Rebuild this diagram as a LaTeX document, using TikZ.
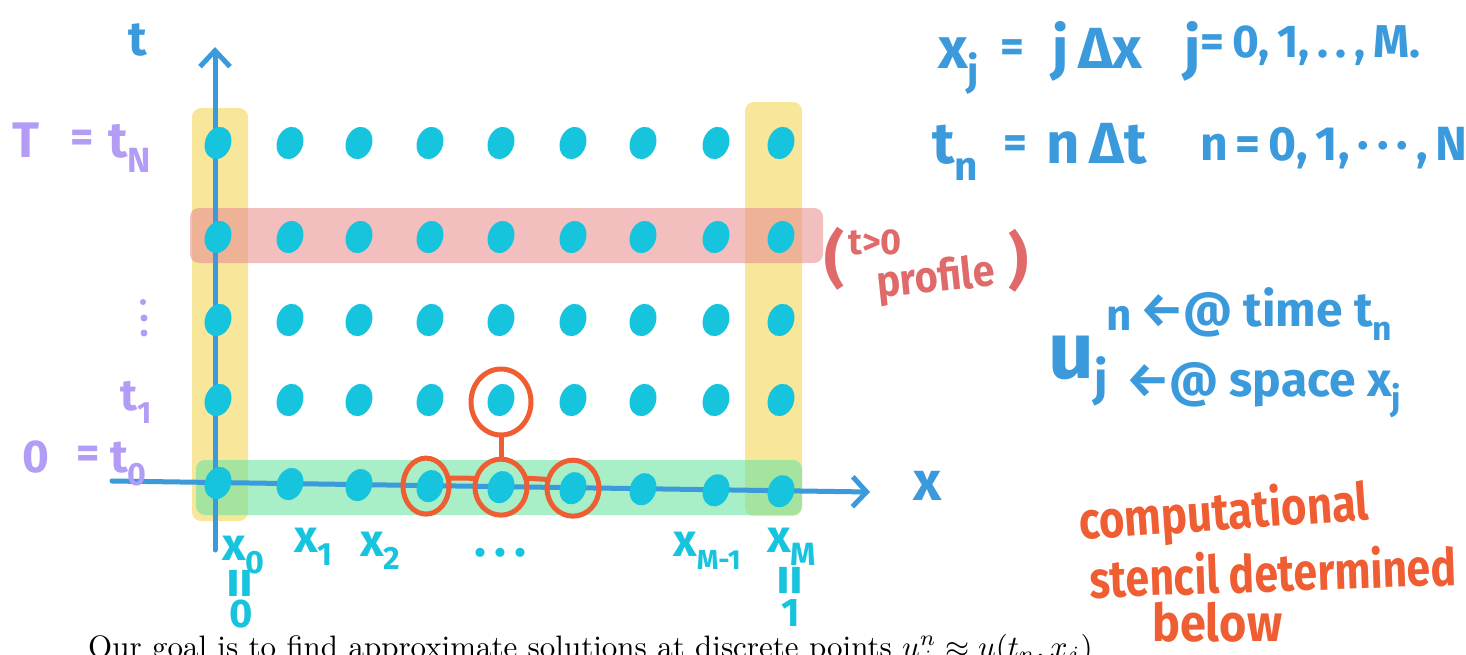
\documentclass[tikz,border=0pt]{standalone}
\usepackage{fontspec}
\usepackage{graphicx}
\newfontfamily\hand{Fira Sans}
\usetikzlibrary{shapes.geometric,arrows.meta}
\definecolor{dotc}{RGB}{22,196,222}
\definecolor{axisc}{RGB}{58,154,220}
\definecolor{purp}{RGB}{178,156,246}
\definecolor{redc}{RGB}{224,106,106}
\definecolor{orc}{RGB}{238,94,50}
\definecolor{yelb}{RGB}{243,213,88}
\definecolor{redb}{RGB}{233,147,147}
\definecolor{grnb}{RGB}{110,227,160}
\newcommand\sbs[1]{\raisebox{-0.3em}{\scalebox{0.7}{#1}}}
\newcommand\nar[2]{\scalebox{#1}[1]{#2}}
\begin{document}
\begin{tikzpicture}[x=1pt,y=-1pt,
  hand/.style={font=\hand\bfseries\fontsize{#1}{#1}\selectfont, inner sep=0pt, anchor=base west},
  band/.style={opacity=.6, rounded corners=9pt},
  axis/.style={draw=axisc, line width=5pt, line cap=round, line join=round},
  dot/.style={ellipse, fill=dotc, inner sep=0pt, minimum width=26pt, minimum height=33pt, rotate=-20},
  ring/.style={ellipse, draw=orc, line width=5pt, inner sep=0pt, minimum width=52pt, minimum height=56pt},
  ringline/.style={draw=orc, line width=5pt, line cap=round}]
\useasboundingbox (0,0) rectangle (1466,654);
\clip (0,0) rectangle (1466,654);
% bands
\fill[yelb, band] (192,108) rectangle (248,521);
\fill[yelb, band] (745,102) rectangle (802,516);
\fill[redb, band] (190,208) rectangle (823,263);
\fill[grnb, band] (196,460) rectangle (802,515);
% axes
\coordinate (tbot) at (215,550);
\coordinate (ttop) at (215,47);
\coordinate (xl) at (112,481);
\coordinate (xr) at (870,492);
\draw[axis, -{Straight Barb[length=16pt,width=30pt,line width=5pt]}] (tbot) -- (ttop);
\draw[axis, -{Straight Barb[length=14pt,width=30pt,line width=5pt]}] (xl) -- (xr);
% dots
\foreach \x [count=\i] in {218,290,359,430,501,573,643,716,781} {
  \foreach \y [count=\k] in {143,237,320,400} {
    \node[dot] (d\i-\k) at (\x,\y) {};
  }
  \node[dot] (d\i-5) at (\x,{483+(\x-218)*0.0146}) {};
}
% stencil
\node[ring, minimum width=46pt] (s1) at ([xshift=-4pt]d4-5) {};
\node[ring] (s2) at (d5-5) {};
\node[ring] (s3) at (d6-5) {};
\node[ring, minimum width=60pt, minimum height=66pt] (s4) at ([yshift=-2pt]d5-4) {};
\draw[ringline] (s1.18) -- (s2.162);
\draw[ringline] (s2.18) -- (s3.162);
\draw[ringline] (s2.north) -- (s4.south);
% left labels
\node[hand=48, text=axisc] (lt) at (128,55) {t};
\node[hand=50, text=purp] (lT) at (12,157) {T};
\node[hand=45, text=purp] (lTe) at (70,152) {=};
\node[hand=50, text=purp] (ltN) at (108,157) {t\sbs{N}};
\fill[purp] (143,302) circle (3pt) (144,318) circle (3.5pt) (144,333) circle (3.5pt);
\node[hand=44, text=purp] (lt1) at (120,410) {t\sbs{1}};
\node[hand=46, text=purp] (l0) at (22,472) {0};
\node[hand=45, text=purp] (l0e) at (76,468) {=};
\node[hand=46, text=purp] (lt0) at (110,472) {t\sbs{0}};
% x labels
\node[hand=46, text=dotc] (x0) at (222,560) {x\sbs{0}};
\node[hand=46, text=dotc] (x1) at (294,552) {x\sbs{1}};
\node[hand=46, text=dotc] (x2) at (360,556) {x\sbs{2}};
\node[hand=50, text=dotc] (xd) at (474,556) {.\,.\,.};
\node[hand=46, text=dotc] (xm1) at (673,556) {x\raisebox{-0.3em}{\scalebox{0.6}{M-1}}};
\node[hand=46, text=dotc] (xM) at (767,552) {x\sbs{M}};
\node[hand=62, text=dotc, anchor=center, rotate=90] (e0) at (245,583) {=};
\node[hand=62, text=dotc, anchor=center, rotate=90] (e1) at (795,580) {=};
\node[hand=40, text=dotc, anchor=base] (z0) at (241,627) {0};
\node[hand=40, text=dotc, anchor=base] (z1) at (791,626) {1};
\node[hand=55, text=axisc] (lx) at (913,500) {x};
% top right
\node[hand=58, text=axisc] (r1a) at (938,68) {x\sbs{j}};
\node[hand=46, text=axisc] (r1b) at (1000,62) {=};
\node[hand=58, text=axisc] (r1c) at (1052,68) {j\,Δx};
\node[hand=58, text=axisc] (r1d) at (1184,68) {j{\fontsize{46}{46}\selectfont\raisebox{0.22em}{=\,0,\,1,\,.\,.\,,\,M.}}};
\node[hand=58, text=axisc] (r2a) at (932,163) {t\sbs{n}};
\node[hand=46, text=axisc] (r2b) at (1003,158) {=};
\node[hand=58, text=axisc] (r2c) at (1046,163) {n\,Δt};
\node[hand=48, text=axisc] (r2d) at (1200,160) {n\,=\,0,\,1,\,·\,·\,·\,,\,N};
% profile
\node[hand=62, text=redc] (p1) at (824,280) {(};
\node[hand=36, text=redc] (p2) at (848,254) {t>0};
\node[hand=44, text=redc, rotate=6] (p3) at (878,298) {\nar{0.9}{profile}};
\node[hand=62, text=redc] (p4) at (1008,282) {)};
% u annotation
\node[hand=80, text=axisc] (u) at (1048,378) {u};
\node[hand=44, text=axisc] (un) at (1106,330) {n};
\node[hand=48, text=axisc] (uj) at (1094,395) {j};
\node[hand=48, text=axisc] (ut) at (1140,326) {←@ time t\sbs{n}};
\node[hand=48, text=axisc] (us) at (1126,396) {←@ space x\sbs{j}};
% orange
\node[hand=52, text=orc, rotate=4] (o1) at (1080,540) {\nar{0.84}{computational}};
\node[hand=52, text=orc, rotate=2] (o2) at (1090,598) {\nar{0.82}{stencil determined}};
\node[hand=52, text=orc] (o3) at (1152,641) {\nar{0.9}{below}};
% caption
\node[anchor=base west, inner sep=0pt] (cap) at (88,657) {\scalebox{3.1}{Our goal is to find approximate solutions at discrete points $u_j^n\approx u(t_n,x_j)$}};
\end{tikzpicture}
\end{document}
